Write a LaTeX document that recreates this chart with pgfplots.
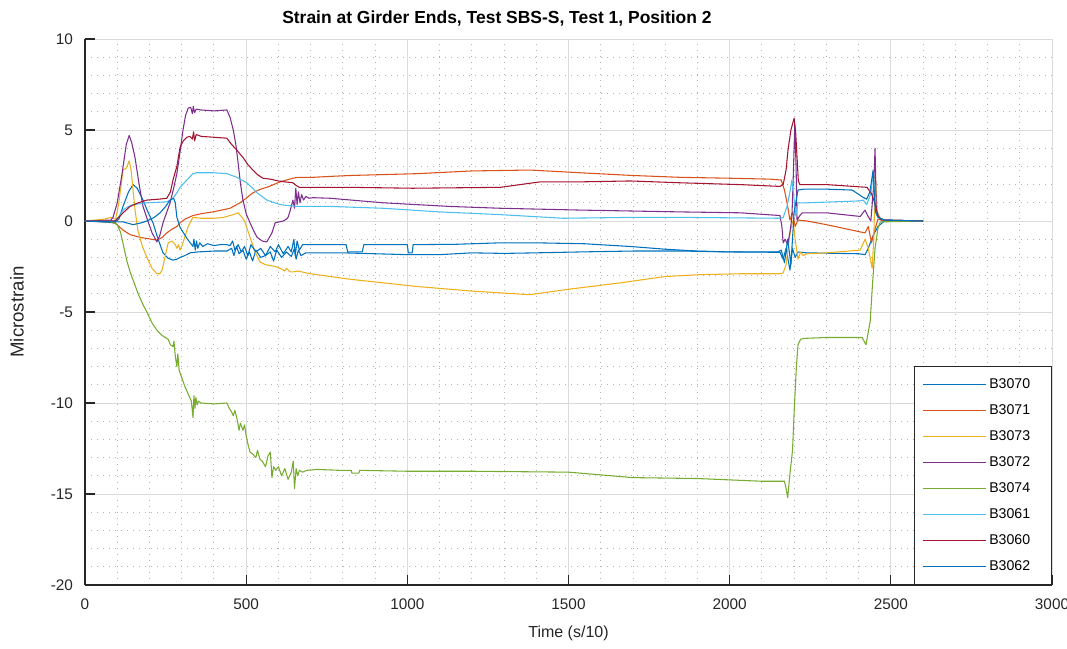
\documentclass[border=0pt]{standalone}
\usepackage{pgfplots}
\pgfplotsset{compat=1.18}
\usepackage{fontspec}
\setmainfont{Liberation Sans}
\definecolor{mblue}{rgb}{0,0.447,0.741}
\definecolor{morange}{rgb}{0.850,0.325,0.098}
\definecolor{myellow}{rgb}{0.929,0.694,0.125}
\definecolor{mpurple}{rgb}{0.494,0.184,0.556}
\definecolor{mgreen}{rgb}{0.466,0.674,0.188}
\definecolor{mcyan}{rgb}{0.301,0.745,0.933}
\definecolor{mred}{rgb}{0.635,0.078,0.184}
\begin{document}
\begin{tikzpicture}
\begin{axis}[
  width=725.25pt, height=409.5pt, scale only axis,
  xmin=0, xmax=3000, ymin=-20, ymax=10,
  xtick={0,500,...,3000}, ytick={-20,-15,...,10},
  minor x tick num=4, minor y tick num=4,
  grid=both,
  major grid style={black!14, line width=0.6pt},
  minor grid style={black!30, dash pattern=on 0.8pt off 3.7pt, line width=0.7pt},
  axis x line*=bottom, axis y line*=left,
  axis line style={-, black!85, line width=0.8pt},
  tick align=inside, major tick length=7.5pt, minor tick length=0pt,
  tick style={black!85, line width=0.8pt},
  /pgf/number format/assume math mode=true,
  /pgf/number format/1000 sep={},
  ticklabel style={font=\fontsize{11.5}{13}\selectfont, text=black!85},
  xticklabel style={yshift=-6.5pt},
  yticklabel style={xshift=-5.5pt},
  xlabel={Time (s/10)},
  ylabel={Microstrain},
  xlabel style={at={(axis description cs:0.5,0)}, anchor=center, yshift=-36pt, font=\fontsize{12}{14}\selectfont, text=black!85},
  ylabel style={at={(axis description cs:0,0.5)}, anchor=center, rotate=0, yshift=51pt, font=\fontsize{14}{16}\selectfont, text=black!85},
  title={\bfseries Strain at Girder Ends, Test SBS-S, Test 1, Position 2},
  title style={at={(axis description cs:0.426,1)}, anchor=center, yshift=9pt, font=\fontsize{13.1}{15}\selectfont},
  legend cell align=left,
  legend image code/.code={\draw[#1, line width=0.8pt] (0pt,0pt) -- (47pt,0pt);},
  legend style={at={(1,0)}, anchor=south east, draw=black!85, line width=0.6pt, fill=white,
    font=\fontsize{10.6}{12}\selectfont, inner xsep=6pt, inner ysep=5.5pt, row sep=3.5pt,
    nodes={text height=8pt, text depth=2pt, inner ysep=3pt},
    /tikz/every even column/.append style={text width=38.75pt}},
  every axis plot/.append style={line width=0.8pt, line join=round},
]
\coordinate (A) at (rel axis cs:0,0);
\coordinate (B) at (rel axis cs:1,1);
% B3070
\addplot[mblue] coordinates {(0,0) (50,-0.05) (90,-0.1) (105,0.1) (118,0.8) (135,1.6) (149,2.0) (162,1.8) (180,1.15) (195,0.5) (211,-0.1) (225,-0.9) (242,-1.75) (258,-2.05) (273,-2.15) (285,-2.1) (295,-2.0) (310,-1.9) (326,-1.75) (350,-1.7) (400,-1.65) (440,-1.65) (455,-1.5) (462,-1.9) (470,-1.4) (478,-1.8) (490,-1.6) (500,-2.1) (510,-1.7) (520,-2.2) (530,-1.6) (545,-2.0) (560,-1.9) (575,-1.7) (585,-2.2) (595,-1.6) (610,-2.0) (625,-1.7) (640,-1.95) (650,-1.5) (655,-2.1) (662,-1.6) (670,-1.9) (685,-1.75) (720,-1.75) (800,-1.75) (900,-1.8) (1000,-1.85) (1100,-1.85) (1200,-1.75) (1300,-1.78) (1400,-1.75) (1536,-1.7) (1700,-1.65) (1850,-1.65) (2000,-1.7) (2156,-1.72) (2166,-2.1) (2175,-1.5) (2187,-2.7) (2195,-1.5) (2203,-2.0) (2212,-1.7) (2240,-1.75) (2400,-1.8) (2420,-1.85) (2430,-1.5) (2445,-0.8) (2460,-0.3) (2480,0) (2600,0)};
\addlegendentry{B3070}
% B3071
\addplot[morange] coordinates {(0,0) (90,-0.05) (118,-0.5) (140,-0.75) (171,-0.9) (223,-1.05) (240,-0.9) (254,-0.65) (270,-0.45) (285,-0.3) (295,-0.1) (310,0.1) (335,0.3) (360,0.4) (397,0.5) (450,0.7) (481,1.0) (500,1.25) (521,1.55) (545,1.75) (564,1.85) (585,2.0) (605,2.15) (625,2.25) (645,2.35) (660,2.4) (707,2.4) (760,2.45) (822,2.5) (1030,2.6) (1200,2.75) (1381,2.8) (1536,2.65) (1700,2.5) (1846,2.4) (2000,2.35) (2125,2.3) (2160,2.25) (2170,1.7) (2178,1.0) (2187,0.05) (2195,0.5) (2203,-0.3) (2212,0.05) (2240,0.0) (2300,-0.2) (2405,-0.6) (2420,-0.65) (2430,-0.3) (2440,-1.2) (2450,-0.5) (2460,0.1) (2480,0.05) (2600,0)};
\addlegendentry{B3071}
% B3073
\addplot[myellow] coordinates {(0,0) (60,0.1) (80,0.2) (95,0.1) (105,1.0) (118,2.8) (128,2.9) (137,3.3) (143,2.8) (149,1.7) (156,0.5) (164,-0.5) (178,-1.4) (192,-2.0) (208,-2.6) (223,-2.9) (232,-2.9) (239,-2.7) (248,-2.0) (258,-1.2) (270,-1.1) (280,-1.3) (285,-1.5) (290,-1.3) (295,-1.6) (300,-1.4) (304,-1.2) (320,-0.3) (335,0.2) (360,0.15) (400,0.15) (430,0.2) (460,0.35) (475,0.45) (487,0.2) (495,0.0) (512,-0.9) (528,-1.7) (543,-2.25) (560,-2.4) (590,-2.5) (605,-2.6) (620,-2.75) (625,-2.6) (636,-2.8) (645,-2.8) (660,-2.75) (700,-2.9) (760,-3.05) (822,-3.2) (1030,-3.6) (1200,-3.85) (1380,-4.05) (1500,-3.75) (1660,-3.4) (1800,-3.05) (1908,-2.95) (2032,-2.9) (2156,-2.9) (2166,-2.85) (2175,-2.4) (2183,-1.2) (2190,-0.4) (2197,0.05) (2203,-1.0) (2212,-2.1) (2220,-1.7) (2228,-1.9) (2240,-1.8) (2300,-1.75) (2405,-1.6) (2420,-1.0) (2430,-1.5) (2442,-2.6) (2447,-1.0) (2452,2.6) (2458,0.5) (2470,0.05) (2600,0)};
\addlegendentry{B3073}
% B3072
\addplot[mpurple] coordinates {(0,0) (80,0.05) (87,0.2) (100,1.0) (115,2.6) (128,4.2) (137,4.7) (145,4.3) (155,3.5) (168,2.0) (180,0.8) (195,0.0) (208,-0.65) (223,-1.15) (232,-0.8) (242,-0.1) (254,0.5) (264,1.0) (275,1.8) (285,2.6) (295,3.8) (304,5.0) (312,5.8) (320,6.2) (328,6.25) (333,5.9) (336,6.3) (340,5.95) (345,6.15) (360,6.1) (400,6.05) (440,6.1) (450,5.7) (460,5.0) (468,4.2) (475,3.2) (482,2.1) (490,1.15) (500,0.4) (512,-0.1) (525,-0.6) (534,-0.9) (550,-1.1) (564,-1.15) (572,-0.9) (580,-0.65) (590,-0.1) (615,0.0) (625,0.1) (630,0.2) (637,0.6) (645,1.15) (650,0.7) (654,1.8) (658,0.9) (662,1.6) (667,1.0) (672,1.45) (678,1.15) (685,1.35) (695,1.25) (707,1.28) (760,1.25) (925,1.0) (1132,0.8) (1288,0.7) (1536,0.6) (1846,0.5) (2032,0.45) (2156,0.3) (2162,-0.3) (2166,-1.2) (2172,-1.0) (2180,-1.3) (2188,-0.5) (2193,0.2) (2197,2.25) (2202,5.3) (2206,3.0) (2209,0.05) (2218,0.3) (2225,0.45) (2300,0.45) (2405,0.25) (2420,0.6) (2428,0.3) (2438,0.0) (2447,2.0) (2451,4.0) (2455,0.5) (2462,0.2) (2480,0.05) (2600,0)};
\addlegendentry{B3072}
% B3074
\addplot[mgreen] coordinates {(0,0) (80,-0.05) (100,-0.2) (110,-0.6) (120,-1.4) (130,-2.2) (140,-2.8) (149,-3.24) (165,-4.0) (180,-4.6) (192,-5.0) (208,-5.6) (223,-6.0) (240,-6.3) (258,-6.5) (265,-6.8) (273,-6.9) (276,-6.6) (280,-7.4) (285,-8.0) (288,-7.3) (292,-8.2) (300,-8.6) (310,-9.1) (320,-9.5) (330,-9.9) (335,-10.8) (338,-9.6) (341,-10.3) (344,-9.7) (348,-10.1) (352,-9.9) (360,-10.0) (400,-10.05) (440,-10.0) (448,-10.3) (455,-10.5) (460,-10.7) (465,-10.4) (472,-10.9) (478,-11.5) (482,-11.1) (490,-11.5) (495,-11.2) (500,-11.8) (506,-12.3) (512,-12.7) (520,-12.8) (530,-13.0) (535,-12.6) (543,-13.1) (550,-13.2) (560,-13.5) (568,-12.9) (575,-12.7) (580,-14.1) (585,-13.5) (592,-13.7) (600,-13.5) (610,-14.0) (620,-13.6) (630,-14.2) (640,-13.8) (646,-13.2) (650,-14.7) (655,-13.6) (660,-14.0) (665,-13.7) (675,-13.8) (688,-13.7) (720,-13.65) (790,-13.7) (826,-13.7) (828,-13.85) (850,-13.85) (852,-13.7) (1000,-13.75) (1200,-13.75) (1500,-13.8) (1700,-14.1) (1900,-14.15) (2100,-14.3) (2170,-14.3) (2175,-14.7) (2180,-15.2) (2187,-13.9) (2195,-12.6) (2200,-10.5) (2207,-8.0) (2212,-6.8) (2220,-6.5) (2230,-6.45) (2300,-6.4) (2411,-6.4) (2423,-6.8) (2428,-6.3) (2436,-5.5) (2443,-3.5) (2451,-1.5) (2460,-0.4) (2467,-0.05) (2600,0)};
\addlegendentry{B3074}
% B3061
\addplot[mcyan] coordinates {(0,0) (93,0) (105,0.25) (118,0.6) (135,0.8) (149,0.9) (192,1.0) (254,1.05) (273,1.25) (285,1.55) (295,1.85) (316,2.25) (335,2.6) (345,2.65) (400,2.65) (440,2.6) (471,2.4) (502,2.1) (520,1.8) (534,1.55) (564,1.15) (605,0.9) (657,0.8) (760,0.8) (925,0.7) (1100,0.5) (1288,0.35) (1484,0.15) (1700,0.2) (1846,0.2) (2156,0.15) (2166,0.2) (2178,0.8) (2187,1.6) (2193,2.25) (2200,1.2) (2205,0.3) (2212,1.0) (2240,1.0) (2400,1.1) (2414,1.15) (2425,0.9) (2438,1.5) (2445,2.6) (2452,0.8) (2462,0.2) (2480,0.05) (2600,0)};
\addlegendentry{B3061}
% B3060
\addplot[mred] coordinates {(0,0) (93,0) (105,0.2) (118,0.45) (140,0.8) (165,1.0) (192,1.15) (230,1.2) (254,1.25) (265,1.6) (273,2.25) (285,3.0) (295,4.05) (305,4.4) (316,4.6) (325,4.65) (333,4.5) (337,4.9) (340,4.4) (345,4.75) (360,4.65) (400,4.6) (440,4.55) (455,4.2) (471,3.9) (480,3.7) (490,3.5) (505,3.1) (521,2.8) (535,2.55) (552,2.35) (575,2.3) (600,2.2) (620,2.15) (645,2.1) (655,1.95) (665,1.85) (760,1.85) (822,1.85) (1017,1.8) (1288,1.85) (1412,2.15) (1536,2.15) (1691,2.2) (1846,2.1) (2032,2.0) (2156,1.9) (2166,2.0) (2175,2.8) (2181,3.9) (2190,5.0) (2200,5.65) (2205,4.8) (2209,3.5) (2213,2.2) (2218,2.0) (2300,2.0) (2426,1.85) (2440,1.5) (2450,1.0) (2460,0.3) (2470,0.05) (2600,0)};
\addlegendentry{B3060}
% B3062
\addplot[mblue] coordinates {(0,0) (90,-0.05) (118,-0.05) (149,-0.2) (175,-0.1) (192,0) (215,0.2) (233,0.45) (250,0.8) (264,1.15) (275,1.25) (280,1.0) (285,0.2) (295,-0.35) (316,-0.95) (335,-1.4) (338,-1.0) (342,-1.6) (346,-1.1) (350,-1.5) (356,-1.2) (365,-1.4) (380,-1.25) (400,-1.35) (420,-1.3) (440,-1.3) (450,-1.35) (458,-1.1) (465,-1.6) (475,-1.3) (485,-1.7) (495,-1.4) (505,-1.9) (515,-1.3) (530,-1.7) (545,-1.5) (560,-1.9) (575,-1.4) (590,-1.7) (600,-1.3) (615,-1.8) (630,-1.4) (640,-1.7) (648,-1.0) (652,-1.9) (658,-1.1) (665,-1.6) (675,-1.3) (700,-1.3) (810,-1.3) (815,-1.7) (860,-1.7) (865,-1.3) (1000,-1.3) (1003,-1.75) (1015,-1.75) (1018,-1.3) (1150,-1.28) (1288,-1.2) (1400,-1.2) (1550,-1.25) (1691,-1.4) (1800,-1.55) (1898,-1.65) (2000,-1.7) (2150,-1.7) (2160,-1.6) (2170,-2.3) (2180,-1.0) (2190,-2.4) (2200,0.5) (2212,1.7) (2230,1.75) (2300,1.75) (2380,1.7) (2414,1.3) (2425,1.2) (2435,1.6) (2445,2.8) (2452,0.5) (2460,0.2) (2480,0.05) (2600,0)};
\addlegendentry{B3062}
\end{axis}
\pgfresetboundingbox
\useasboundingbox ([shift={(-63.75pt,-48pt)}]A) rectangle ([shift={(11.25pt,29.25pt)}]B);
\end{tikzpicture}
\end{document}
